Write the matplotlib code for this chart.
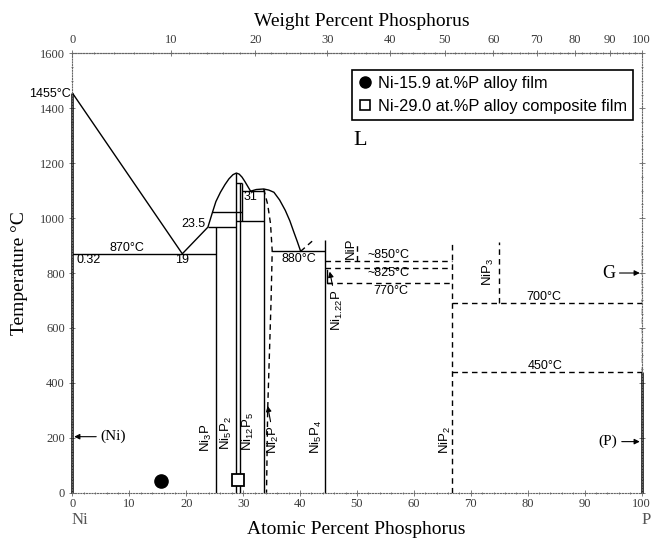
import numpy as np
import matplotlib.pyplot as plt
from matplotlib.lines import Line2D
from matplotlib.ticker import MultipleLocator

plt.rcParams['font.family'] = ['Liberation Sans', 'DejaVu Sans']
plt.rcParams['mathtext.fontset'] = 'custom'
plt.rcParams['mathtext.rm'] = 'Liberation Sans'
plt.rcParams['mathtext.it'] = 'Liberation Sans:italic'
plt.rcParams['mathtext.bf'] = 'Liberation Sans:bold'

SERIF = ['Liberation Serif', 'DejaVu Serif']

# phase boundaries (atomic % P, temperature in C)
ni_liq_at = [0, 19.3, 23.8, 24.6, 25.2, 26.0, 26.8, 27.5, 28.2, 28.8, 29.3, 29.8, 30.3, 30.7, 31.3]
ni_liq_T = [1455, 870, 967, 1021, 1060, 1094, 1122, 1143, 1158, 1164, 1160, 1149, 1133, 1119, 1098]
ni2p_liq_at = [31.3, 32.3, 33.6, 34.5, 35.4, 36.4, 37.4, 38.2, 38.9, 39.5, 40.1]
ni2p_liq_T = [1098, 1104, 1106, 1102, 1094, 1066, 1028, 990, 949, 915, 879]
ni2p_solvus_at = [33.6, 34.3, 34.8, 35.1, 34.9, 34.6, 34.3, 34.1]
ni2p_solvus_T = [1106, 1050, 980, 880, 700, 500, 300, 0]
ext_at = [40.1, 42.4]
ext_T = [879, 921]

# solid invariant lines
solid_T = [870, 967, 1021, 1127, 1097, 991, 880]
solid_from = [0, 23.8, 24.6, 28.7, 29.8, 28.7, 35.1]
solid_to = [25.3, 28.7, 29.8, 29.8, 33.6, 33.6, 44.3]

# solid compound lines
phase_at = [25.3, 28.7, 29.4, 29.8, 33.6, 44.3]
phase_bottom = [0, 0, 0, 991, 0, 0]
phase_top = [967, 1164, 1127, 1127, 1106, 920]

# dashed lines
dash_T = [842, 817, 765, 690, 440]
dash_from = [44.3, 44.3, 44.7, 66.7, 66.7]
dash_to = [66.7, 66.7, 66.7, 100, 100]
dash_at = [50.0, 66.7, 75.0, 100]
dash_bottom = [842, 0, 690, 440]
dash_top = [913, 918, 912, 885]

# pure elements
end_at = [0, 100]
end_top = [1455, 440]

ni122_at = [44.7, 44.7, 45.5]
ni122_T = [811, 765, 765]

# measured films
film_names = ['Ni-15.9 at.%P alloy film', 'Ni-29.0 at.%P alloy composite film']
film_at = [15.5, 29.0]
film_T = [42, 45]


def at2wt(a):
    a = np.asarray(a, dtype=float)
    return 100 * a * 30.974 / (a * 30.974 + (100 - a) * 58.693)


def wt2at(w):
    w = np.asarray(w, dtype=float)
    return 100 * (w / 30.974) / (w / 30.974 + (100 - w) / 58.693)


fig = plt.figure(figsize=(6.53, 5.38), dpi=100)
ax = fig.add_axes([0.111, 0.0842, 0.8714, 0.8167])
ax.set_xlim(0, 100)
ax.set_ylim(0, 1600)

lw = 1.0
ax.plot(ni_liq_at, ni_liq_T, color='k', lw=lw)
ax.plot(ni2p_liq_at, ni2p_liq_T, color='k', lw=lw)
ax.plot(ni2p_solvus_at, ni2p_solvus_T, color='k', lw=lw, dashes=(4, 3))
ax.plot(ext_at, ext_T, color='k', lw=lw, dashes=(4, 3))
ax.hlines(solid_T, solid_from, solid_to, color='k', lw=lw)
ax.vlines(phase_at, phase_bottom, phase_top, color='k', lw=lw)
ax.hlines(dash_T, dash_from, dash_to, color='k', lw=lw, linestyles=(0, (4, 3)))
ax.vlines(dash_at, dash_bottom, dash_top, color='k', lw=lw, linestyles=(0, (4, 3)))
ax.vlines(end_at, [0, 0], end_top, color='k', lw=1.8, clip_on=False)
ax.plot(ni122_at, ni122_T, color='k', lw=lw)

ax.plot(film_at[0], film_T[0], 'o', ms=9.5, color='k', clip_on=False)
ax.plot(film_at[1], film_T[1], 's', ms=9, mfc='white', mec='k', mew=1.3, clip_on=False)

# compound labels
comp = [('Ni$_3$P', 23.6, 200), ('Ni$_5$P$_2$', 27.1, 216), ('Ni$_{12}$P$_5$', 30.9, 222),
        ('Ni$_5$P$_4$', 42.9, 204), ('NiP', 48.9, 891), ('NiP$_2$', 65.5, 192),
        ('NiP$_3$', 73.1, 803)]
for s, x, y in comp:
    ax.text(x, y, s, rotation=90, ha='center', va='center', fontsize=9.5)

ax.annotate('Ni$_2$P', xy=(34.3, 316), xytext=(35.4, 192), rotation=90, ha='center', va='center',
            fontsize=9.5, arrowprops=dict(arrowstyle='-|>', color='k', lw=0.8, mutation_scale=8,
                                          shrinkA=1, shrinkB=0))
ax.annotate('Ni$_{1.22}$P', xy=(45.2, 805), xytext=(46.6, 665), rotation=90, ha='center', va='center',
            fontsize=9.5, arrowprops=dict(arrowstyle='-|>', color='k', lw=0.8, mutation_scale=8,
                                          shrinkA=1, shrinkB=0))

# temperatures and compositions
notes = [('870°C', 9.5, 890), ('0.32', 2.8, 847), ('19', 19.3, 847), ('880°C', 39.7, 850),
         ('31', 31.3, 1076), ('~850°C', 55.6, 866), ('~825°C', 55.6, 799), ('770°C', 55.9, 736),
         ('700°C', 82.8, 714), ('450°C', 83.1, 462)]
for s, x, y in notes:
    ax.text(x, y, s, ha='center', va='center', fontsize=9)
ax.text(23.3, 977, '23.5', ha='right', va='center', fontsize=9)
ax.text(-0.3, 1451, '1455°C', ha='right', va='center', fontsize=9, clip_on=False)

ax.text(50.6, 1284, 'L', ha='center', va='center', fontsize=16, family=SERIF)

arrow = dict(arrowstyle='-|>', color='k', lw=0.8, mutation_scale=8, shrinkA=1, shrinkB=0)
ax.annotate('(Ni)', xy=(0.3, 204), xytext=(4.9, 204), ha='left', va='center', fontsize=11,
            family=SERIF, arrowprops=arrow)
ax.annotate('(P)', xy=(99.7, 186), xytext=(95.8, 186), ha='right', va='center', fontsize=11,
            family=SERIF, arrowprops=arrow)
ax.annotate('G', xy=(99.7, 800), xytext=(95.4, 800), ha='right', va='center', fontsize=13,
            family=SERIF, arrowprops=arrow)

# axes styling
for sp in ax.spines.values():
    sp.set_linestyle((0, (1, 1.5)))
    sp.set_linewidth(0.8)
    sp.set_color('#666666')

ax.set_xticks(range(0, 101, 10))
ax.set_yticks(range(0, 1601, 200))
ax.xaxis.set_minor_locator(MultipleLocator(2))
ax.yaxis.set_minor_locator(MultipleLocator(50))
ax.tick_params(which='both', direction='inout', color='#666666', width=0.6)
ax.tick_params(which='major', length=4, labelsize=9, labelcolor='#3a3a3a')
ax.tick_params(axis='x', which='major', pad=2)
ax.tick_params(which='minor', length=2)
ax.tick_params(top=False, right=True, which='both')
for lab in ax.get_xticklabels() + ax.get_yticklabels():
    lab.set_family(SERIF)

secax = ax.secondary_xaxis('top', functions=(at2wt, wt2at))
secax.set_xticks(range(0, 101, 10))
secax.xaxis.set_minor_locator(MultipleLocator(2))
secax.tick_params(which='both', direction='inout', color='#666666', width=0.6)
secax.tick_params(which='major', length=4, labelsize=9, labelcolor='#3a3a3a')
secax.tick_params(which='minor', length=2)
secax.spines['top'].set_linestyle((0, (1, 1.5)))
secax.spines['top'].set_linewidth(0.8)
secax.spines['top'].set_color('#666666')
for lab in secax.get_xticklabels():
    lab.set_family(SERIF)

fig.text(362 / 653, 1 - 21.7 / 538, 'Weight Percent Phosphorus', ha='center', va='center',
         fontsize=14, family=SERIF)
fig.text(356 / 653, 1 - 529 / 538, 'Atomic Percent Phosphorus', ha='center', va='center',
         fontsize=14, family=SERIF)
fig.text(20 / 653, 1 - 273 / 538, 'Temperature °C', ha='center', va='center', rotation=90,
         fontsize=14, family=SERIF)
fig.text(80 / 653, 1 - 520 / 538, 'Ni', ha='center', va='center', fontsize=12, family=SERIF,
         color='#555555')
fig.text(646 / 653, 1 - 520 / 538, 'P', ha='center', va='center', fontsize=12, family=SERIF,
         color='#555555')

handles = [Line2D([], [], ls='none', marker='o', ms=8, color='k'),
           Line2D([], [], ls='none', marker='s', ms=7.5, mfc='white', mec='k', mew=1.2)]
leg = ax.legend(handles, film_names, loc='upper right', bbox_to_anchor=(633.3 / 653, 1 - 70 / 538),
                bbox_transform=fig.transFigure, borderaxespad=0, fontsize=11.8, frameon=True,
                fancybox=False, framealpha=1, handlelength=0.8, handletextpad=0.45,
                labelspacing=0.5, borderpad=0.35)
leg.get_frame().set_edgecolor('k')
leg.get_frame().set_linewidth(1.2)

fig.savefig('out.png', dpi=100)
